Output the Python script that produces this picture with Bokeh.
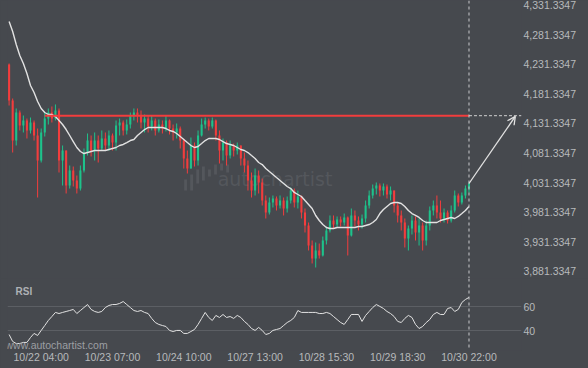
from bokeh.plotting import figure
from bokeh.layouts import column
from bokeh.models import (ColumnDataSource, FixedTicker, Span, Arrow, OpenHead,
                          Label, Range1d, NumeralTickFormatter)
from bokeh.embed import file_html
from bokeh.resources import INLINE

# ---------------- data ----------------
first_open = 4231.0
close = [4170.1, 4102.4, 4149.8, 4127.8, 4136.3, 4119.4, 4132.9, 4110.9, 4068.6, 4116.0,
         4139.6, 4149.8, 4139.6, 4153.2, 4068.6, 4085.5, 4026.3, 4051.7, 4034.8, 4021.2,
         4051.7, 4082.1, 4102.4, 4085.5, 4102.4, 4088.9, 4105.8, 4094.0, 4110.9, 4099.0,
         4127.8, 4132.9, 4119.4, 4129.5, 4144.7, 4149.8, 4144.7, 4132.9, 4139.6, 4126.1,
         4136.3, 4119.4, 4129.5, 4122.7, 4136.3, 4122.7, 4116.0, 4122.7, 4102.4, 4072.0,
         4055.0, 4094.0, 4068.6, 4110.9, 4129.5, 4136.3, 4126.1, 4136.3, 4110.9, 4085.5,
         4099.0, 4077.0, 4094.0, 4085.5, 4094.0, 4072.0, 4060.1, 4034.8, 4017.8, 4043.2,
         4031.4, 4000.9, 3980.6, 3997.5, 4004.3, 3992.5, 4000.9, 3987.4, 4000.9, 4017.8,
         3997.5, 4007.7, 3980.6, 3958.6, 3924.8, 3902.8, 3916.4, 3907.9, 3933.3, 3950.2,
         3967.1, 3960.3, 3968.8, 3963.7, 3972.2, 3941.7, 3975.6, 3967.1, 3960.3, 3970.5,
         3992.5, 4009.4, 4021.2, 4026.3, 4017.8, 4024.6, 4011.1, 4017.8, 3992.5, 3975.6,
         3963.7, 3936.6, 3953.5, 3967.1, 3946.8, 3958.6, 3933.3, 3958.6, 3984.0, 3992.5,
         3980.6, 3970.5, 3980.6, 3967.1, 3984.0, 4009.4, 3997.5, 4009.4, 4021.2, 4029.7]
high = [4232.7, 4173.5, 4156.6, 4153.2, 4144.7, 4139.6, 4141.3, 4136.3, 4122.7, 4122.7,
        4149.8, 4156.6, 4160.0, 4163.4, 4156.6, 4094.0, 4085.5, 4060.1, 4058.4, 4043.2,
        4060.1, 4088.9, 4114.3, 4110.9, 4116.0, 4110.9, 4119.4, 4116.0, 4119.4, 4114.3,
        4136.3, 4139.6, 4136.3, 4138.0, 4149.8, 4156.6, 4156.6, 4153.2, 4146.4, 4144.7,
        4144.7, 4139.6, 4138.0, 4136.3, 4144.7, 4138.0, 4129.5, 4131.2, 4126.1, 4105.8,
        4085.5, 4107.5, 4099.0, 4119.4, 4139.6, 4141.3, 4139.6, 4141.3, 4138.0, 4119.4,
        4105.8, 4102.4, 4102.4, 4097.3, 4099.0, 4094.0, 4082.1, 4068.6, 4048.3, 4055.0,
        4051.7, 4038.1, 4009.4, 4006.0, 4009.4, 4007.7, 4009.4, 4006.0, 4007.7, 4022.9,
        4021.2, 4017.8, 4009.4, 3987.4, 3963.7, 3933.3, 3929.9, 3928.2, 3940.0, 3956.9,
        3975.6, 3975.6, 3973.9, 3973.9, 3978.9, 3973.9, 3987.4, 3984.0, 3973.9, 3977.2,
        4000.9, 4017.8, 4028.0, 4031.4, 4029.7, 4029.7, 4028.0, 4024.6, 4017.8, 3997.5,
        3984.0, 3970.5, 3958.6, 3975.6, 3973.9, 3970.5, 3963.7, 3967.1, 3990.8, 4000.9,
        4009.4, 4000.9, 3987.4, 3984.0, 3992.5, 4017.8, 4012.8, 4014.5, 4026.3, 4031.4]
low = [4161.6, 4082.1, 4094.0, 4119.4, 4116.0, 4105.8, 4114.3, 4102.4, 4006.0, 4065.2,
       4109.2, 4129.5, 4132.9, 4136.3, 4048.3, 4026.3, 4012.8, 4021.2, 4024.6, 4012.8,
       4017.8, 4048.3, 4077.0, 4075.4, 4068.6, 4065.2, 4085.5, 4085.5, 4085.5, 4085.5,
       4085.5, 4110.9, 4110.9, 4112.6, 4122.7, 4136.3, 4132.9, 4122.7, 4116.0, 4116.0,
       4119.4, 4110.9, 4116.0, 4114.3, 4117.7, 4112.6, 4102.4, 4105.8, 4088.9, 4055.0,
       4046.6, 4055.0, 4058.4, 4060.1, 4109.2, 4122.7, 4119.4, 4122.7, 4102.4, 4063.5,
       4068.6, 4060.1, 4072.0, 4075.4, 4078.7, 4060.1, 4048.3, 4017.8, 4006.0, 4009.4,
       4012.8, 3992.5, 3970.5, 3977.2, 3989.1, 3984.0, 3987.4, 3975.6, 3980.6, 3995.9,
       3989.1, 3987.4, 3970.5, 3946.8, 3916.4, 3894.4, 3887.6, 3902.8, 3906.2, 3926.5,
       3946.8, 3953.5, 3955.2, 3956.9, 3958.6, 3907.9, 3940.0, 3956.9, 3950.2, 3953.5,
       3963.7, 3987.4, 4004.3, 4011.1, 4007.7, 4009.4, 4004.3, 4000.9, 3980.6, 3963.7,
       3950.2, 3921.4, 3916.4, 3943.4, 3933.3, 3924.8, 3916.4, 3924.8, 3950.2, 3975.6,
       3970.5, 3963.7, 3963.7, 3962.0, 3963.7, 3980.6, 3990.8, 3994.2, 4004.3, 4014.5]
moving_avg = [4303.7, 4286.8, 4264.8, 4246.2, 4232.7, 4215.8, 4195.5, 4183.6, 4168.4, 4156.6,
              4149.8, 4146.4, 4146.4, 4143.0, 4136.3, 4129.5, 4121.0, 4110.9, 4100.7, 4090.6,
              4083.8, 4080.4, 4082.1, 4083.8, 4085.5, 4085.5, 4085.5, 4085.5, 4087.2, 4088.9,
              4090.6, 4094.0, 4095.7, 4099.0, 4102.4, 4104.1, 4110.9, 4116.0, 4121.0, 4124.4,
              4124.4, 4124.4, 4124.4, 4124.4, 4122.7, 4119.4, 4117.7, 4114.3, 4109.2, 4104.1,
              4099.0, 4094.0, 4090.6, 4092.3, 4097.3, 4102.4, 4105.8, 4105.8, 4105.8, 4104.1,
              4100.7, 4097.3, 4095.7, 4094.0, 4090.6, 4087.2, 4085.5, 4082.1, 4077.0, 4072.0,
              4065.2, 4061.8, 4055.0, 4049.9, 4044.9, 4039.8, 4034.8, 4029.7, 4024.6, 4021.2,
              4014.5, 4011.1, 4007.7, 4000.9, 3994.2, 3987.4, 3975.6, 3967.1, 3960.3, 3955.2,
              3953.5, 3953.5, 3955.2, 3955.2, 3955.2, 3955.2, 3955.2, 3955.2, 3956.9, 3956.9,
              3958.6, 3960.3, 3963.7, 3968.8, 3978.9, 3985.7, 3990.8, 3995.9, 3997.5, 3997.5,
              3995.9, 3990.8, 3984.0, 3978.9, 3975.6, 3972.2, 3967.1, 3963.7, 3963.7, 3963.7,
              3963.7, 3967.1, 3968.8, 3970.5, 3972.2, 3970.5, 3973.9, 3978.9, 3984.0, 3990.8]
rsi = [36.9, 31.1, 29.4, 29.4, 30.3, 30.3, 34.4, 37.8, 36.1, 40.3,
       44.4, 48.6, 51.9, 55.3, 54.4, 55.3, 56.1, 56.9, 57.8, 54.4,
       56.9, 59.4, 61.9, 57.8, 56.1, 55.3, 56.1, 59.4, 61.1, 61.9,
       61.9, 62.8, 64.4, 61.9, 59.4, 56.9, 56.1, 56.9, 55.3, 54.4,
       50.3, 46.9, 45.3, 44.4, 43.6, 40.3, 39.4, 40.3, 40.3, 37.8,
       37.8, 39.4, 41.1, 45.3, 50.3, 55.3, 51.1, 48.6, 52.8, 51.1,
       53.6, 51.1, 51.9, 50.3, 52.8, 51.1, 47.8, 45.3, 41.9, 40.3,
       42.8, 40.3, 36.9, 37.8, 40.3, 41.1, 41.9, 44.4, 46.9, 48.6,
       51.1, 56.9, 55.3, 55.3, 55.3, 55.3, 55.3, 54.4, 54.4, 55.3,
       54.4, 51.9, 49.4, 46.9, 45.3, 49.4, 53.6, 53.6, 53.6, 47.8,
       52.8, 56.1, 59.4, 61.9, 60.3, 58.6, 56.1, 54.4, 51.9, 47.8,
       46.9, 50.3, 52.8, 51.1, 45.3, 41.9, 43.6, 46.9, 49.4, 53.6,
       55.3, 53.6, 53.6, 58.6, 59.4, 56.1, 57.8, 63.6, 66.1, 67.8]

tick_bars = [9, 29, 49, 69, 89, 109, 129]
tick_labels = ["10/22 04:00", "10/23 07:00", "10/24 10:00", "10/27 13:00",
               "10/28 15:30", "10/29 18:30", "10/30 22:00"]
price_ticks = [3881.3347, 3931.3347, 3981.3347, 4031.3347, 4081.3347,
               4131.3347, 4181.3347, 4231.3347, 4281.3347, 4331.3347]
rsi_levels = [40, 60]
resistance_level = 4144.4
resistance_start_bar = 10
forecast_bar = 142
forecast_price = 4143.2

# faint watermark logo (decoration)
logo_left = [49.1, 50.8, 52.5, 54.1, 55.8, 57.5, 59.2, 60.9]
logo_right = [49.9, 51.6, 53.3, 54.9, 56.6, 58.3, 60.0, 61.7]
logo_top = [4036.5, 4044.9, 4053.4, 4058.4, 4053.4, 4061.8, 4063.5, 4061.8]
logo_bottom = [4017.8, 4017.8, 4029.7, 4034.8, 4041.5, 4044.9, 4051.7, 4048.3]

# ---------------- styling ----------------
BG = "#46494e"
TXT = "#b7b9bc"
GREEN = "#1ec28b"
RED = "#f23d3d"
WHITE = "#e2e2e2"
FONT = "Liberation Sans"

n = len(close)
bars = list(range(n))
opens = [first_open] + close[:-1]
colors = [GREEN if c >= o else RED for o, c in zip(opens, close)]
src = ColumnDataSource(dict(
    x=bars, h=high, l=low,
    top=[max(o, c) for o, c in zip(opens, close)],
    bot=[min(o, c) for o, c in zip(opens, close)],
    color=colors, ma=moving_avg, rsi=rsi))

x_range = Range1d(-0.45, 143.73)

def style(fig):
    fig.background_fill_color = BG
    fig.border_fill_color = BG
    fig.outline_line_color = None
    fig.xgrid.visible = False
    for ax in fig.axis:
        ax.axis_line_color = None
        ax.major_tick_line_color = None
        ax.minor_tick_line_color = None
        ax.major_tick_out = 0
        ax.major_tick_in = 0
        ax.major_label_text_color = TXT
        ax.major_label_text_font = FONT
        ax.major_label_text_font_size = "10.5px"
        ax.major_label_standoff = 2

# ---------------- price panel ----------------
p = figure(width=588, height=278, x_range=x_range, y_range=Range1d(3868.98, 4339.27),
           output_backend="svg", toolbar_location=None, tools="",
           x_axis_location=None, y_axis_location="right",
           min_border_left=7, min_border_right=67, min_border_top=0, min_border_bottom=0)
style(p)
p.ygrid.visible = False
p.yaxis.ticker = FixedTicker(ticks=price_ticks)
p.yaxis.formatter = NumeralTickFormatter(format="0,0.0000")

p.quad(left=logo_left, right=logo_right, top=logo_top, bottom=logo_bottom,
       fill_color="#54575c", line_color=None, level="underlay")
p.add_layout(Label(x=58.5, y=4018.7, text="autochartist", text_font="DejaVu Sans",
                   text_font_size="19px", text_color="#54575c", level="underlay"))

p.segment(x0="x", y0="l", x1="x", y1="h", line_color="color", line_width=1, source=src)
p.vbar(x="x", width=0.58, top="top", bottom="bot", fill_color="color",
       line_color=None, source=src)
p.line(x="x", y="ma", line_color=WHITE, line_width=1.4, source=src)

p.segment(x0=[resistance_start_bar], y0=[resistance_level], x1=[bars[-1]],
          y1=[resistance_level], line_color=RED, line_width=2)
p.segment(x0=[bars[-1]], y0=[resistance_level], x1=[x_range.end],
          y1=[resistance_level], line_color="#d0d0d0", line_width=1, line_dash="3 2")
p.add_layout(Span(location=bars[-1], dimension="height", line_color="#c9cacc",
                  line_width=1, line_dash="3 3"))
p.add_layout(Arrow(end=OpenHead(size=8, line_color=WHITE, line_width=1.3),
                   x_start=bars[-1], y_start=close[-1], x_end=forecast_bar,
                   y_end=forecast_price, line_color=WHITE, line_width=1.3))

# ---------------- RSI panel ----------------
r = figure(width=588, height=90, x_range=x_range, y_range=Range1d(23.58, 83.58),
           output_backend="svg", toolbar_location=None, tools="",
           y_axis_location="right",
           min_border_left=7, min_border_right=67, min_border_top=0, min_border_bottom=18)
style(r)
r.yaxis.ticker = FixedTicker(ticks=rsi_levels)
r.ygrid.grid_line_color = "#5c5f64"
r.ygrid.grid_line_width = 1
r.xaxis.ticker = FixedTicker(ticks=tick_bars)
r.xaxis.major_label_overrides = {b: t for b, t in zip(tick_bars, tick_labels)}
r.xaxis.major_label_standoff = 0

r.line(x="x", y="rsi", line_color=WHITE, line_width=1, source=src)
r.add_layout(Span(location=bars[-1], dimension="height", line_color="#c9cacc",
                  line_width=1, line_dash="3 3"))
r.add_layout(Label(x=1.8, y=72.8, text="RSI", text_baseline="middle", text_font=FONT,
                   text_font_size="10px", text_font_style="bold", text_color="#aeb1b5"))
r.add_layout(Label(x=-1.0, y=27.75, text="www.autochartist.com", text_baseline="middle",
                   text_font=FONT, text_font_size="10.5px", text_color="#9c9fa3"))

layout = column(p, r, spacing=0)
html = file_html(layout, INLINE, title="chart")
html = html.replace("</head>",
                    "<style>html,body{background-color:%s;overflow:hidden;}</style></head>" % BG, 1)
open("out.html", "w").write(html)
